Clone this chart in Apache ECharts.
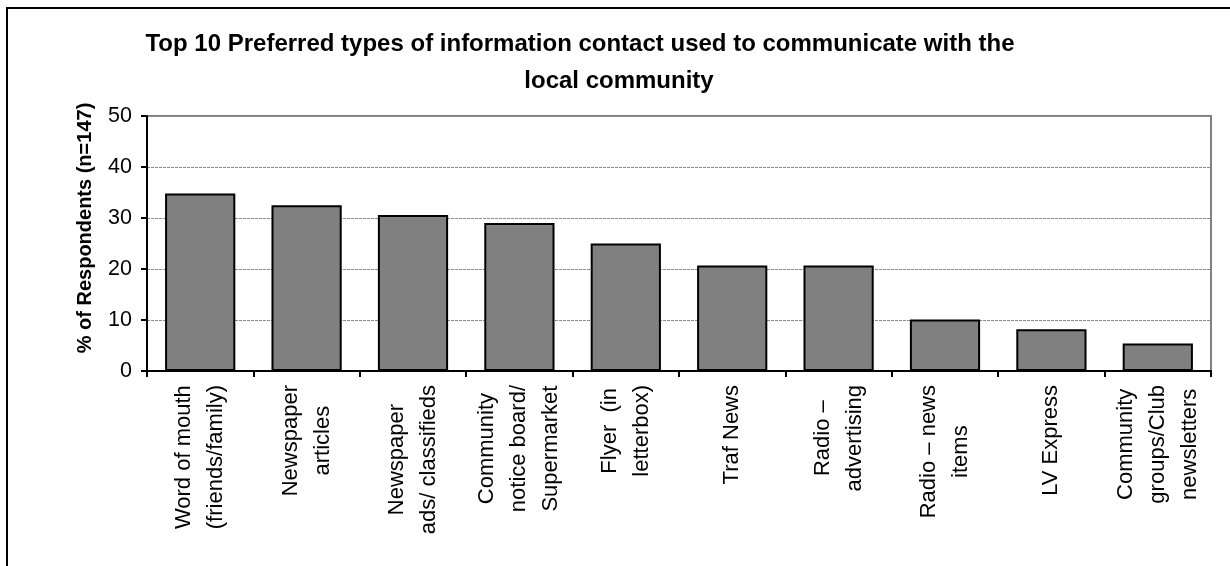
<!DOCTYPE html>
<html>
<head>
<meta charset="utf-8">
<script src="https://cdn.jsdelivr.net/npm/echarts@6/dist/echarts.min.js"></script>
<style>
  html, body { margin: 0; padding: 0; background: #fff; }
  #chart { width: 1230px; height: 566px; }
</style>
</head>
<body>
<div id="chart"></div>
<script>
// Survey: preferred ways to reach the local community (n=147)
const categories = [
  'Word of mouth\n(friends/family)',
  'Newspaper\narticles',
  'Newspaper\nads/ classifieds',
  'Community\nnotice board/\nSupermarket',
  'Flyer  (in\nletterbox)',
  'Traf News',
  'Radio –\nadvertising',
  'Radio – news\nitems',
  'LV Express',
  'Community\ngroups/Club\nnewsletters'
];
const percentRespondents = [34.8, 32.5, 30.6, 29.0, 25.0, 20.7, 20.7, 10.1, 8.2, 5.4];
const yTicks = { min: 0, max: 50, interval: 10 };

const titleLines = [
  'Top 10 Preferred types of information contact used to communicate with the',
  'local community'
];
const yAxisTitle = '% of Respondents (n=147)';

const FONT = 'Liberation Sans, Arial, Helvetica, sans-serif';

const chart = echarts.init(document.getElementById('chart'), null, { renderer: 'canvas' });

chart.setOption({
  backgroundColor: '#ffffff',
  animation: false,
  textStyle: { fontFamily: FONT, color: '#000' },
  grid: {
    left: 147, right: 19, top: 116, bottom: 195,
    show: true, borderColor: '#808080', borderWidth: 2, backgroundColor: 'transparent'
  },
  graphic: [
    {
      // outer chart frame
      type: 'rect', silent: true,
      shape: { x: 7, y: 8, width: 1300, height: 700 },
      style: { fill: 'none', stroke: '#000', lineWidth: 2 }
    },
    {
      type: 'text', silent: true, x: 580, y: 44,
      style: {
        text: titleLines[0], align: 'center', verticalAlign: 'middle',
        font: 'bold 24px ' + FONT, fill: '#000'
      }
    },
    {
      type: 'text', silent: true, x: 619, y: 81,
      style: {
        text: titleLines[1], align: 'center', verticalAlign: 'middle',
        font: 'bold 24px ' + FONT, fill: '#000'
      }
    },
    {
      type: 'text', silent: true, x: 85, y: 228, rotation: Math.PI / 2,
      style: {
        text: yAxisTitle, align: 'center', verticalAlign: 'middle',
        font: 'bold 20px ' + FONT, fill: '#000'
      }
    }
  ],
  xAxis: {
    type: 'category',
    data: categories,
    axisLine: { lineStyle: { color: '#000', width: 2 } },
    axisTick: { show: true, length: 6, lineStyle: { color: '#000', width: 2 } },
    axisLabel: {
      interval: 0, rotate: 90, margin: 14,
      formatter: function (v) {
        return v.split('\n').map(function (l) { return '{c|' + l + '}'; }).join('\n');
      },
      rich: {
        c: { align: 'center', fontSize: 22, lineHeight: 32, fontFamily: FONT, color: '#000' }
      }
    },
    splitLine: { show: false }
  },
  yAxis: {
    type: 'value',
    min: yTicks.min, max: yTicks.max, interval: yTicks.interval,
    axisLine: { show: true, lineStyle: { color: '#000', width: 2 } },
    axisTick: { show: true, length: 6, lineStyle: { color: '#000', width: 2 } },
    axisLabel: { fontSize: 21.5, color: '#000', margin: 15, fontFamily: FONT },
    splitLine: { show: true, lineStyle: { color: '#8c8c8c', width: 1, type: [3, 1] } }
  },
  series: [{
    type: 'bar',
    data: percentRespondents,
    barCategoryGap: '34%',
    itemStyle: { color: '#808080', borderColor: '#000', borderWidth: 2 }
  }]
});
</script>
</body>
</html>
